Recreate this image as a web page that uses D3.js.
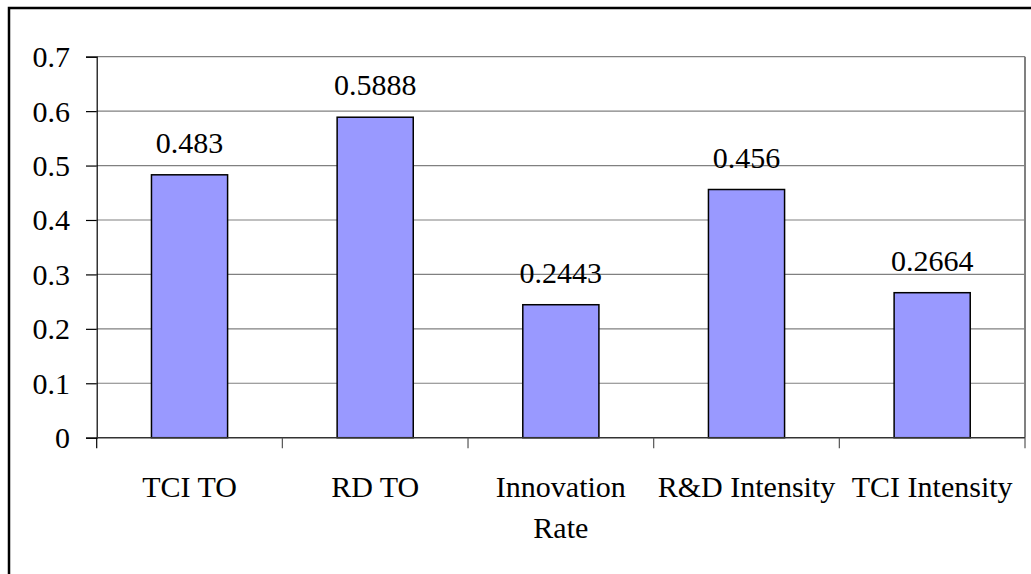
<!DOCTYPE html>
<html>
<head>
<meta charset="utf-8">
<script src="https://cdn.jsdelivr.net/npm/d3@7/dist/d3.min.js"></script>
<style>
  html, body { margin: 0; padding: 0; background: #fff; }
  svg { display: block; }
</style>
</head>
<body>
<svg id="chart" width="1031" height="574"></svg>
<script>
// Chart data
const categories = ["TCI TO", "RD TO", "Innovation Rate", "R&D Intensity", "TCI Intensity"];
const categoryLines = [["TCI TO"], ["RD TO"], ["Innovation", "Rate"], ["R&D Intensity"], ["TCI Intensity"]];
const values = [0.483, 0.5888, 0.2443, 0.456, 0.2664];
const valueLabels = ["0.483", "0.5888", "0.2443", "0.456", "0.2664"];
const yTicks = [0, 0.1, 0.2, 0.3, 0.4, 0.5, 0.6, 0.7];
const yTickLabels = ["0", "0.1", "0.2", "0.3", "0.4", "0.5", "0.6", "0.7"];

const svg = d3.select("#chart");
const fontSize = 30;
const serif = "\"Liberation Serif\"";

// Outer chart frame (runs past the right and bottom edges)
svg.append("rect")
  .attr("x", 9).attr("y", 8)
  .attr("width", 1060).attr("height", 620)
  .attr("fill", "none").attr("stroke", "#000").attr("stroke-width", 2.5);

const plot = { left: 96.7, right: 1025, top: 56.7, bottom: 437.7 };

const x = d3.scaleBand().domain(categories).range([plot.left, plot.right]).padding(0);
const y = d3.scaleLinear().domain([0, 0.7]).range([plot.bottom, plot.top]);
const barW = x.bandwidth() * 0.41;

// Gridlines
svg.append("g").selectAll("line").data(yTicks.filter(d => d > 0)).join("line")
  .attr("x1", plot.left).attr("x2", plot.right)
  .attr("y1", d => y(d)).attr("y2", d => y(d))
  .attr("stroke", "#808080").attr("stroke-width", 1.2);

// Right edge of plot area
svg.append("line")
  .attr("x1", plot.right).attr("x2", plot.right)
  .attr("y1", plot.top).attr("y2", plot.bottom)
  .attr("stroke", "#808080").attr("stroke-width", 2);

// Bars
svg.append("g").selectAll("rect").data(values).join("rect")
  .attr("x", (d, i) => x(categories[i]) + x.bandwidth() / 2 - barW / 2)
  .attr("y", d => y(d))
  .attr("width", barW)
  .attr("height", d => y(0) - y(d))
  .attr("fill", "#9999FF")
  .attr("stroke", "#000").attr("stroke-width", 1.5);

// Shared text styling
function serifText(sel) {
  return sel.style("font-family", serif).attr("font-size", fontSize).attr("fill", "#000");
}

// Value labels
svg.selectAll("text.value").data(values).join("text")
  .attr("class", "value")
  .attr("x", (d, i) => x(categories[i]) + x.bandwidth() / 2)
  .attr("y", d => y(d) - 22)
  .attr("text-anchor", "middle")
  .call(serifText)
  .text((d, i) => valueLabels[i]);

// Y axis
const yAxis = d3.axisLeft(y).tickValues(yTicks)
  .tickFormat((d, i) => yTickLabels[i]).tickSize(10.7).tickPadding(16);
const gy = svg.append("g").attr("transform", `translate(${plot.left},0)`).call(yAxis);
gy.attr("font-family", null).attr("font-size", null);
gy.select(".domain").attr("stroke", "#000").attr("stroke-width", 1.2);
gy.selectAll(".tick line").attr("stroke", "#000").attr("stroke-width", 1.2);
gy.selectAll(".tick text")
  .call(serifText)
  .attr("dy", "0.33em");

// X axis line and category boundary ticks
svg.append("line")
  .attr("x1", plot.left).attr("x2", plot.right)
  .attr("y1", plot.bottom).attr("y2", plot.bottom)
  .attr("stroke", "#333").attr("stroke-width", 1.5);

const bounds = categories.map(c => x(c)).concat([plot.right]);
svg.append("g").selectAll("line").data(bounds).join("line")
  .attr("x1", d => d).attr("x2", d => d)
  .attr("y1", plot.bottom).attr("y2", plot.bottom + 10.5)
  .attr("stroke", (d, i) => i === 0 ? "#000" : "#555").attr("stroke-width", 1.2);

// Category labels
categoryLines.forEach((lines, i) => {
  lines.forEach((line, j) => {
    svg.append("text")
      .attr("x", x(categories[i]) + x.bandwidth() / 2)
      .attr("y", 496.7 + j * 41.6)
      .attr("text-anchor", "middle")
      .call(serifText)
      .text(line);
  });
});
</script>
</body>
</html>
